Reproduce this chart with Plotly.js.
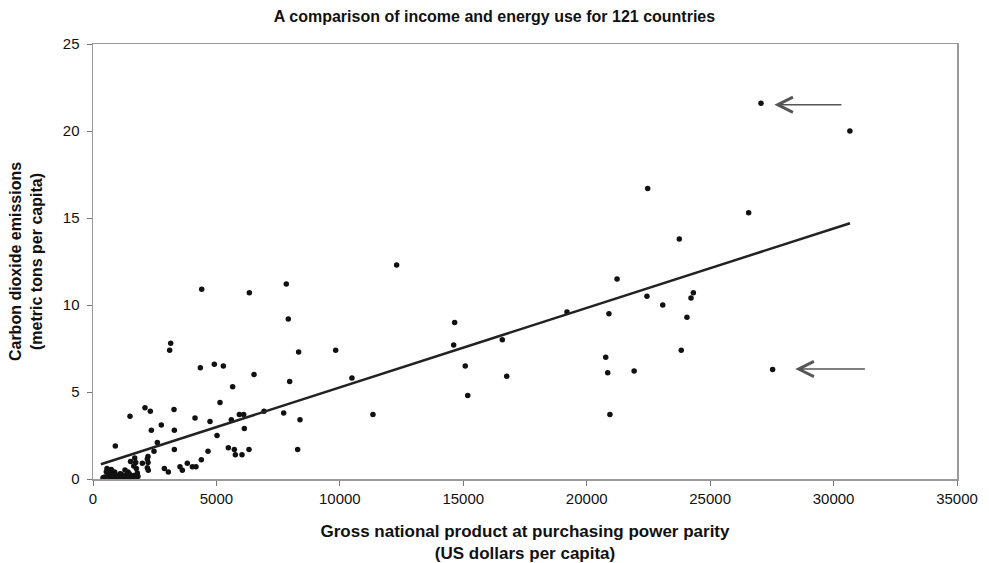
<!DOCTYPE html>
<html>
<head>
<meta charset="utf-8">
<script src="https://cdn.plot.ly/plotly-3.0.1.min.js"></script>
<style>html,body{margin:0;padding:0;background:#fff;}#chart{width:989px;height:563px;}</style>
</head>
<body>
<div id="chart"></div>
<script>
// GNP at PPP (US$ per capita)
const gnp = [
  22470, 23750, 21230, 22440, 24320, 24225, 23080, 24060, 20900, 19200,
  14650, 14610, 16580, 15080, 16760, 15180, 20770, 20850, 21920, 23830,
  20940, 27060, 30660, 26560, 27530, 12300, 7830, 7912, 8330, 9830,
  7967, 10490, 7724, 8385, 8290, 11340, 4403, 6333, 3147, 3106,
  4348, 4915, 5280, 6522, 5658, 5145, 4132, 4740, 5603, 5928,
  6104, 6130, 5023, 6927, 5482, 5725, 5766, 6036, 6319, 4659,
  4388, 4172, 4024, 3820, 2106, 2322, 1499, 3281, 2767, 2363,
  3295, 2606, 2471, 3295, 904, 2890, 3052, 3524, 3619, 2228,
  2200, 2230, 2200, 2240, 1690, 1730, 1650, 1755, 1795, 1823,
  1418, 1470, 1349, 1147, 1243, 1081, 879, 944, 741, 717,
  608, 474, 405, 677, 810, 567, 539, 1296, 1377, 1000,
  1200, 1550, 1650, 900, 1100, 1400, 1700, 620, 2000, 760, 1520
];
// CO2 emissions (metric tons per capita)
const co2 = [
  16.7, 13.8, 11.5, 10.5, 10.7, 10.4, 10.0, 9.3, 9.5, 9.6,
  9.0, 7.7, 8.0, 6.5, 5.9, 4.8, 7.0, 6.1, 6.2, 7.4,
  3.7, 21.6, 20.0, 15.3, 6.3, 12.3, 11.2, 9.2, 7.3, 7.4,
  5.6, 5.8, 3.8, 3.4, 1.7, 3.7, 10.9, 10.7, 7.8, 7.4,
  6.4, 6.6, 6.5, 6.0, 5.3, 4.4, 3.5, 3.3, 3.4, 3.7,
  3.7, 2.9, 2.5, 3.9, 1.8, 1.7, 1.4, 1.4, 1.7, 1.6,
  1.1, 0.7, 0.7, 0.9, 4.1, 3.9, 3.6, 4.0, 3.1, 2.8,
  2.8, 2.1, 1.6, 1.7, 1.9, 0.6, 0.4, 0.7, 0.5, 1.3,
  1.15, 0.95, 0.65, 0.5, 1.2, 0.95, 0.75, 0.6, 0.35, 0.15,
  0.4, 0.3, 0.15, 0.27, 0.17, 0.12, 0.4, 0.22, 0.55, 0.38,
  0.17, 0.12, 0.07, 0.1, 0.13, 0.6, 0.42, 0.52, 0.27, 0.05,
  0.08, 0.1, 0.2, 0.08, 0.3, 0.05, 0.08, 0.3, 0.9, 0.2, 1.0
];
// fitted trend line end points
const trendX = [320, 30665];
const trendY = [0.85, 14.7];
// arrows (tail -> tip)
const arrows = [
  {tailX: 30380, tailY: 21.51, tipX: 27600, tipY: 21.51},
  {tailX: 31330, tailY: 6.32, tipX: 28450, tipY: 6.32}
];
const xTicks = [0, 5000, 10000, 15000, 20000, 25000, 30000, 35000];
const yTicks = [0, 5, 10, 15, 20, 25];

const FONT = 'Liberation Sans, Arial, sans-serif';

const traces = [
  {x: gnp, y: co2, type: 'scatter', mode: 'markers',
   marker: {color: '#111', size: 5.5}, hoverinfo: 'x+y'},
  {x: trendX, y: trendY, type: 'scatter', mode: 'lines',
   line: {color: '#222', width: 2.5}, hoverinfo: 'skip'}
];

const layout = {
  width: 989, height: 563,
  margin: {l: 93, r: 32, t: 44, b: 84},
  paper_bgcolor: '#fff', plot_bgcolor: '#fff',
  showlegend: false,
  font: {family: FONT, color: '#111', size: 15},
  title: {text: '<b>A comparison of income and energy use for 121 countries</b>',
          x: 0.5, xref: 'container', y: 0.97, yref: 'container', yanchor: 'middle',
          font: {family: FONT, size: 16, color: '#111'}},
  xaxis: {
    range: [0, 35000], tickvals: xTicks, ticktext: xTicks.map(String),
    showgrid: false, zeroline: false, showline: true, mirror: true,
    linecolor: '#9a9a9a', linewidth: 1.5, ticks: 'outside', ticklen: 5,
    tickcolor: '#777', tickfont: {family: FONT, size: 15, color: '#111'},
    title: {text: '<b>Gross national product at purchasing power parity<br>(US dollars per capita)</b>',
            standoff: 20, font: {family: FONT, size: 17, color: '#111'}}
  },
  yaxis: {
    range: [0, 25], tickvals: yTicks, ticktext: yTicks.map(String),
    showgrid: false, zeroline: false, showline: true, mirror: true,
    linecolor: '#9a9a9a', linewidth: 1.5, ticks: 'outside', ticklen: 5,
    tickcolor: '#777', tickfont: {family: FONT, size: 15, color: '#111'},
    ticklabelstandoff: 4,
    title: {text: '<b>Carbon dioxide emissions<br>(metric tons per capita)</b>',
            standoff: 16, font: {family: FONT, size: 16, color: '#111'}}
  },
  annotations: arrows.map(a => ({
    x: a.tipX, y: a.tipY, ax: a.tailX, ay: a.tailY,
    xref: 'x', yref: 'y', axref: 'x', ayref: 'y',
    text: '', showarrow: true, arrowhead: 5, arrowsize: 2, arrowwidth: 1.5,
    arrowcolor: '#555'
  }))
};

Plotly.newPlot('chart', traces, layout, {displayModeBar: false, staticPlot: true});
</script>
</body>
</html>
